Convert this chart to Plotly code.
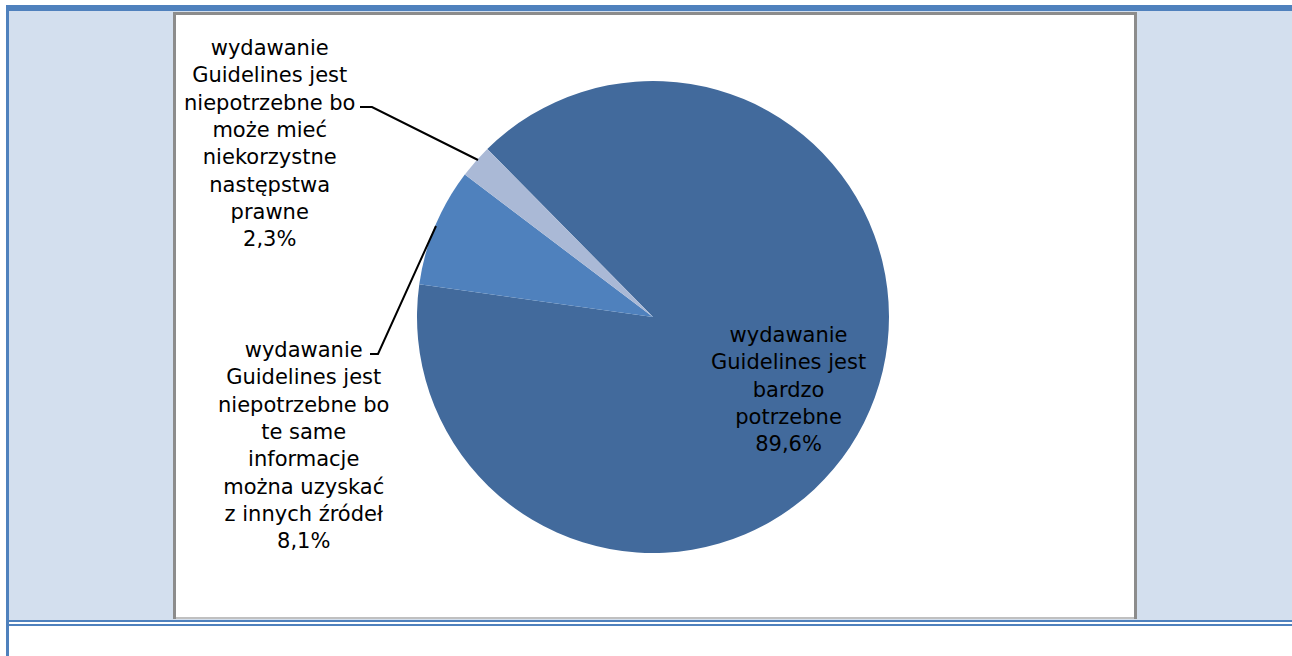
import plotly.graph_objects as go

# Survey answers and their shares (percent)
labels = [
    "wydawanie<br>Guidelines jest<br>bardzo<br>potrzebne",
    "wydawanie<br>Guidelines jest<br>niepotrzebne bo<br>te same<br>informacje<br>można uzyskać<br>z innych źródeł",
    "wydawanie<br>Guidelines jest<br>niepotrzebne bo<br>może mieć<br>niekorzystne<br>następstwa<br>prawne",
]
values = [89.6, 8.1, 2.3]
colors = ["#426A9C", "#4F81BD", "#AAB9D6"]

W, H = 1292, 656


def px(x):
    return x / W


def py(y):
    return 1 - y / H


def pct(v):
    return f"{v:.1f}%".replace(".", ",")


# pie geometry in pixels
cx, cy, r = 653, 317, 236

fig = go.Figure(
    go.Pie(
        labels=labels,
        values=values,
        marker=dict(colors=colors, line=dict(width=0)),
        sort=False,
        direction="clockwise",
        rotation=-44.6,
        textinfo="none",
        hoverinfo="label+percent",
        showlegend=False,
        domain=dict(x=[px(cx - r), px(cx + r)], y=[py(cy + r), py(cy - r)]),
    )
)

shapes = []
# outer frame: light blue panel and blue rules
shapes.append(dict(type="rect", xref="paper", yref="paper", x0=px(9), x1=1, y0=py(620), y1=py(11),
                   fillcolor="#D3DFEE", line=dict(width=0), layer="below"))
shapes.append(dict(type="rect", xref="paper", yref="paper", x0=px(9), x1=1, y0=py(11), y1=py(5),
                   fillcolor="#4F81BD", line=dict(width=0), layer="below"))
shapes.append(dict(type="rect", xref="paper", yref="paper", x0=px(6), x1=px(9), y0=0, y1=py(5),
                   fillcolor="#4F81BD", line=dict(width=0), layer="below"))
shapes.append(dict(type="rect", xref="paper", yref="paper", x0=px(9), x1=1, y0=py(622), y1=py(620),
                   fillcolor="#4F81BD", line=dict(width=0), layer="below"))
shapes.append(dict(type="rect", xref="paper", yref="paper", x0=px(9), x1=1, y0=py(626), y1=py(624),
                   fillcolor="#4F81BD", line=dict(width=0), layer="below"))
# white chart area with grey border
shapes.append(dict(type="rect", xref="paper", yref="paper", x0=px(173), x1=px(1137), y0=py(619), y1=py(12),
                   fillcolor="#8C8C8C", line=dict(width=0), layer="below"))
shapes.append(dict(type="rect", xref="paper", yref="paper", x0=px(176), x1=px(1134), y0=py(619), y1=py(15),
                   fillcolor="#C0C0C0", line=dict(width=0), layer="below"))
shapes.append(dict(type="rect", xref="paper", yref="paper", x0=px(176), x1=px(1134), y0=py(617), y1=py(15),
                   fillcolor="#FFFFFF", line=dict(width=0), layer="below"))

# leader lines
def path(points):
    d = "M " + " L ".join(f"{px(x)},{py(y)}" for x, y in points)
    return dict(type="path", xref="paper", yref="paper", path=d, line=dict(color="#000000", width=2))

shapes.append(path([(360, 107), (372, 107), (478, 160)]))
shapes.append(path([(370, 354), (378, 354), (436, 226)]))

font = dict(family="DejaVu Sans", size=21, color="#000000")
annotations = [
    dict(x=px(788), y=py(389), text=f"{labels[0]}<br>{pct(values[0])}"),
    dict(x=px(303), y=py(445), text=f"{labels[1]}<br>{pct(values[1])}"),
    dict(x=px(269), y=py(143), text=f"{labels[2]}<br>{pct(values[2])}"),
]
for a in annotations:
    a.update(xref="paper", yref="paper", showarrow=False, xanchor="center", yanchor="middle",
             align="center", font=font)

fig.update_layout(
    width=W,
    height=H,
    margin=dict(l=0, r=0, t=0, b=0),
    paper_bgcolor="#FFFFFF",
    plot_bgcolor="#FFFFFF",
    shapes=shapes,
    annotations=annotations,
)

fig.write_html("out.html")
